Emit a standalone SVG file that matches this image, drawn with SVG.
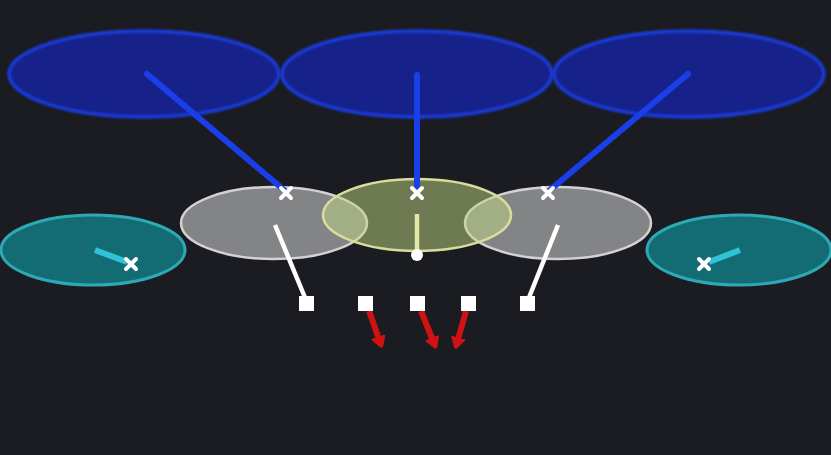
<svg xmlns="http://www.w3.org/2000/svg" width="831" height="455" viewBox="0 0 831 455">
  <defs>
    <style>
      .zone-deep { fill: #13238a; stroke: #1a3ad8; stroke-width: 3.5; filter: url(#soft); }
      .zone-flat { fill: #136b73; stroke: #2ea8b4; stroke-width: 3; }
      .zone-hook { fill: rgba(255,255,255,0.46); stroke: #d2d2d4; stroke-width: 2.5; }
      .zone-mid { fill: rgba(194,216,131,0.5); stroke: #d9dd9c; stroke-width: 2.5; }
      .drop-deep { stroke: #1a3ee8; stroke-width: 6; stroke-linecap: round; fill: none; }
      .drop-flat { stroke: #2ec3d5; stroke-width: 6; stroke-linecap: butt; fill: none; }
      .rush-white { stroke: #ffffff; stroke-width: 4.5; stroke-linecap: butt; fill: none; }
      .rush-mid { stroke: #e3e8a8; stroke-width: 4.5; fill: none; }
      .block { stroke: #d01212; stroke-width: 6; fill: none; marker-end: url(#redhead); }
      .defender { stroke: #ffffff; stroke-width: 4; stroke-linecap: round; }
      .lineman { fill: #ffffff; }
    </style>
    <filter id="soft" x="-5%" y="-10%" width="110%" height="120%">
      <feGaussianBlur stdDeviation="0.9"/>
    </filter>
    <marker id="redhead" markerWidth="2.6" markerHeight="2.6" viewBox="0 -2 4 4" refX="1.4" refY="0" orient="auto">
      <path d="M0,-1.4 L2.4,0 L0,1.4 Z" fill="#d01212" stroke="#d01212" stroke-width="1" stroke-linejoin="round"/>
    </marker>
  </defs>
  <rect x="0" y="0" width="831" height="455" fill="#1a1c21"/>

  <g id="zone-deep-left"><ellipse class="zone-deep" cx="144" cy="74" rx="135" ry="43"/></g>
  <g id="zone-deep-middle"><ellipse class="zone-deep" cx="417" cy="74" rx="135" ry="43"/></g>
  <g id="zone-deep-right"><ellipse class="zone-deep" cx="689" cy="74" rx="135" ry="43"/></g>

  <g id="zone-flat-left"><ellipse class="zone-flat" cx="93" cy="250" rx="92" ry="35"/></g>
  <g id="zone-flat-right"><ellipse class="zone-flat" cx="739" cy="250" rx="92" ry="35"/></g>

  <g id="zone-hook-left"><ellipse class="zone-hook" cx="274" cy="223" rx="93" ry="36"/></g>
  <g id="zone-hook-right"><ellipse class="zone-hook" cx="558" cy="223" rx="93" ry="36"/></g>
  <g id="zone-middle"><ellipse class="zone-mid" cx="417" cy="215" rx="94" ry="36"/></g>

  <g id="connectors">
    <line class="drop-deep" x1="147" y1="74" x2="284" y2="190"/>
    <line class="drop-deep" x1="417" y1="75" x2="417" y2="188"/>
    <line class="drop-deep" x1="688" y1="74" x2="550" y2="190"/>
    <line class="drop-flat" x1="95" y1="250" x2="127" y2="262"/>
    <line class="drop-flat" x1="740" y1="250" x2="709" y2="262"/>
    <line class="rush-white" x1="275" y1="225" x2="306" y2="300"/>
    <line class="rush-white" x1="558" y1="225" x2="528" y2="300"/>
    <line class="rush-mid" x1="417" y1="214" x2="417" y2="252"/>
    <line class="block" x1="369" y1="311" x2="380" y2="342"/>
    <line class="block" x1="421" y1="311" x2="434" y2="343"/>
    <line class="block" x1="466" y1="311" x2="457" y2="343"/>
  </g>

  <g id="defender-1"><path class="defender" d="M281,188 L291,198 M291,188 L281,198"/></g>
  <g id="defender-2"><path class="defender" d="M412,188 L422,198 M422,188 L412,198"/></g>
  <g id="defender-3"><path class="defender" d="M543,188 L553,198 M553,188 L543,198"/></g>
  <g id="defender-4"><path class="defender" d="M126,259 L136,269 M136,259 L126,269"/></g>
  <g id="defender-5"><path class="defender" d="M699,259 L709,269 M709,259 L699,269"/></g>

  <g id="ball"><circle cx="417" cy="255" r="6" fill="#ffffff"/></g>

  <g id="lineman-1"><rect class="lineman" x="299" y="296" width="15" height="15"/></g>
  <g id="lineman-2"><rect class="lineman" x="358" y="296" width="15" height="15"/></g>
  <g id="lineman-3"><rect class="lineman" x="410" y="296" width="15" height="15"/></g>
  <g id="lineman-4"><rect class="lineman" x="461" y="296" width="15" height="15"/></g>
  <g id="lineman-5"><rect class="lineman" x="520" y="296" width="15" height="15"/></g>
</svg>
